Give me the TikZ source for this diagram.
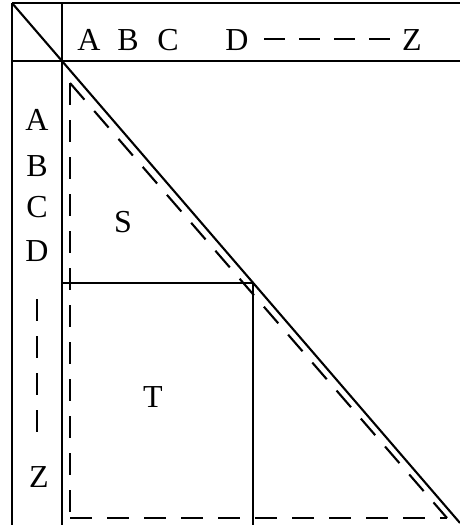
\documentclass[tikz,border=0pt]{standalone}
\usepackage{fontspec}
\setmainfont{Liberation Serif}
\begin{document}
\begin{tikzpicture}[x=1pt,y=-1pt,
  frame/.style={line width=2.1pt},
  dashln/.style={line width=2.1pt,dash pattern=on 22pt off 15pt},
  lbl/.style={inner sep=0pt,font=\fontsize{32}{34}\selectfont}]
\useasboundingbox (0,0) rectangle (460,525);
% frame
\coordinate (tl) at (12,3);
\coordinate (tr) at (460,3);
\coordinate (hl) at (12,61);
\coordinate (hr) at (460,61);
\coordinate (bl) at (12,525);
\coordinate (ct) at (62,3);
\coordinate (o) at (62,61);
\coordinate (cb) at (62,525);
\coordinate (end) at (460,523);
\coordinate (m) at (253,283);
\coordinate (mb) at (253,525);
\draw[frame] (tl) -- (tr);
\draw[frame] (hl) -- (hr);
\draw[frame] (tl) -- (bl);
\draw[frame] (ct) -- (cb);
\draw[frame] (tl) -- (o) -- (end);
\draw[frame] (o |- m) -- (m) -- (mb);
% dashed triangle
\coordinate (d1) at (70,83);
\coordinate (d2) at (70,518);
\coordinate (d3) at (447,518);
\draw[dashln] (d1) -- (d2);
\draw[dashln] (d2) -- (d3);
\draw[dashln] (d1) -- (d3);
% header labels
\node[lbl] (hA) at (89,40) {A};
\node[lbl] (hB) at (128,40) {B};
\node[lbl] (hC) at (168,40) {C};
\node[lbl] (hD) at (237,40) {D};
\node[lbl] (hZ) at (412,40) {Z};
\coordinate (hd1) at (264,39);
\coordinate (hd2) at (392,39);
\draw[line width=1.8pt,dash pattern=on 21pt off 14pt] (hd1) -- (hd2);
% side labels
\node[lbl] (vA) at (37,120) {A};
\node[lbl] (vB) at (37,166) {B};
\node[lbl] (vC) at (37,207) {C};
\node[lbl] (vD) at (37,251) {D};
\node[lbl] (vZ) at (39,477) {Z};
\coordinate (vd1) at (37,299);
\coordinate (vd2) at (37,434);
\draw[line width=1.8pt,dash pattern=on 22pt off 15pt] (vd1) -- (vd2);
% region labels
\node[lbl] (S) at (123,222) {S};
\node[lbl] (T) at (153,397) {T};
\end{tikzpicture}
\end{document}
